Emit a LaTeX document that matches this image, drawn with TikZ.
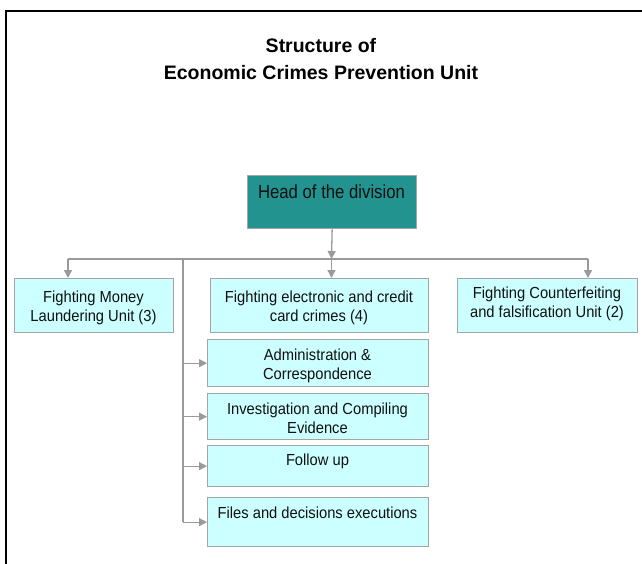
\documentclass[tikz,border=0pt]{standalone}
\usepackage{fontspec}
\setmainfont{Liberation Sans}
\newfontfamily\boxfont[FakeStretch=0.92]{Liberation Sans}
\newfontfamily\headfont[FakeStretch=0.88]{Liberation Sans}
\usetikzlibrary{arrows.meta}
\definecolor{teal1}{HTML}{23938F}
\definecolor{cyanfill}{HTML}{CCFFFF}
\definecolor{edge}{HTML}{A4A4A4}
\definecolor{conncol}{HTML}{9A9A9A}
\definecolor{txtcol}{HTML}{101010}
\begin{document}
\begin{tikzpicture}[x=1pt,y=-1pt,
  box/.style={draw=edge, fill=cyanfill, line width=1.3pt, rectangle, inner sep=0pt, anchor=north west},
  headbox/.style={box, fill=teal1},
  txt/.style={inner sep=0pt, anchor=north, align=center, text=txtcol, font=\boxfont\fontsize{16}{19}\selectfont},
  conn/.style={draw=conncol, line width=1.3pt},
  arr/.style={conn, -{Triangle[length=8pt,width=8pt]}}
]
\useasboundingbox (0,0) rectangle (642,564);
% frame
\draw[line width=2pt] (6,564) -- (6,11) -- (642,11);
% title
\node[inner sep=0pt, anchor=north, align=center, font=\bfseries\fontsize{19.5}{27}\selectfont] (title) at (321,38.5) {Structure of\\Economic Crimes Prevention Unit};
% head
\node[headbox, minimum width=169pt, minimum height=53pt] (head) at (247,175) {};
\node[inner sep=0pt, anchor=north, text=txtcol, font=\headfont\fontsize{19}{22}\selectfont] (headt) at (331.5,185) {Head of the division};
% top row
\node[box, minimum width=159pt, minimum height=54pt] (ml) at (14,278) {};
\node[txt] (mlt) at (93.5,291) {Fighting Money\\Laundering Unit (3)};
\node[box, minimum width=218pt, minimum height=54pt] (ec) at (210,278) {};
\node[txt] (ect) at (319,291) {Fighting electronic and credit\\card crimes (4)};
\node[box, minimum width=180pt, minimum height=54pt] (cf) at (457,278) {};
\node[txt] (cft) at (547,287) {Fighting Counterfeiting\\and falsification Unit (2)};
% sub boxes
\node[box, minimum width=221pt, minimum height=47pt] (adm) at (207,339) {};
\node[txt] (admt) at (317.5,349) {Administration \&\\Correspondence};
\node[box, minimum width=221pt, minimum height=46pt] (inv) at (207,393) {};
\node[txt] (invt) at (317.5,403) {Investigation and Compiling\\Evidence};
\node[box, minimum width=221pt, minimum height=41pt] (fol) at (207,445) {};
\node[txt] (folt) at (317.5,454) {Follow up};
\node[box, minimum width=221pt, minimum height=49pt] (fil) at (207,497) {};
\node[txt] (filt) at (317.5,507) {Files and decisions executions};
% connectors
\coordinate (busL) at (68,259);
\coordinate (busR) at (588,259);
\coordinate (busM) at (331.5,259);
\coordinate (vtop) at (183,259);
\draw[conn] (busL) -- (busR);
\draw[arr] (head.south) -- (busM);
\draw[arr] (busM) -- (busM |- ec.north);
\draw[arr] (busL) -- (busL |- ml.north);
\draw[arr] (busR) -- (busR |- cf.north);
\draw[conn] (vtop) -- (vtop |- fil.west);
\draw[arr] (vtop |- adm.west) -- (adm.west);
\draw[arr] (vtop |- inv.west) -- (inv.west);
\draw[arr] (vtop |- fol.west) -- (fol.west);
\draw[arr] (vtop |- fil.west) -- (fil.west);
\end{tikzpicture}
\end{document}
